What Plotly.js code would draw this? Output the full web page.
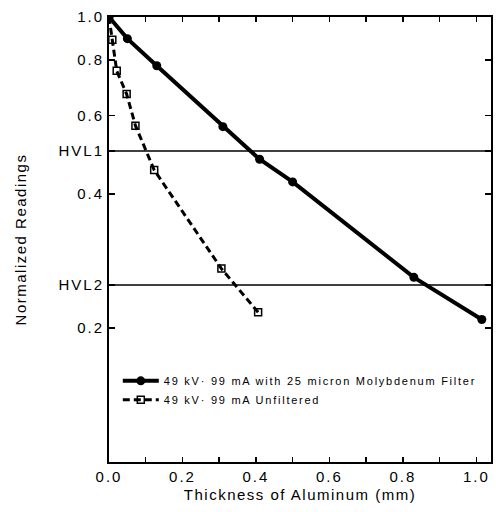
<!DOCTYPE html>
<html>
<head>
<meta charset="utf-8">
<script src="https://cdn.plot.ly/plotly-3.0.1.min.js"></script>
<style>
  html, body { margin: 0; padding: 0; background: #fff; }
  #chart { width: 496px; height: 512px; }
  .xtick text, .ytick text { letter-spacing: 2px !important; }
  .g-xtitle text, .g-ytitle text { letter-spacing: 1.5px !important; }
  .legendtext { letter-spacing: 1.75px !important; }
</style>
</head>
<body>
<div id="chart"></div>
<script>
// Data
const filteredName = "49 kV· 99 mA with 25 micron Molybdenum Filter";
const filteredX = [0, 0.05, 0.13, 0.31, 0.41, 0.50, 0.83, 1.015];
const filteredY = [1.0, 0.894, 0.777, 0.567, 0.479, 0.426, 0.260, 0.209];

const unfilteredName = "49 kV· 99 mA Unfiltered";
const unfilteredX = [0, 0.009, 0.021, 0.048, 0.072, 0.123, 0.306, 0.406];
const unfilteredY = [1.0, 0.889, 0.757, 0.671, 0.570, 0.453, 0.272, 0.217];

const hvlValues = [0.5, 0.25];
const xRange = [0, 1.04];
const yTickVals = [0.2, 0.25, 0.4, 0.5, 0.6, 0.8, 1.0];
const yTickText = ["0.2", "HVL2", "0.4", "HVL1", "0.6", "0.8", "1.0"];
const xTickVals = [0, 0.2, 0.4, 0.6, 0.8, 1.0];
const xTickText = ["0.0", "0.2", "0.4", "0.6", "0.8", "1.0"];

const FONT = "'Liberation Sans', Arial, Helvetica, sans-serif";

const hvlTraces = hvlValues.map(v => ({
  x: xRange, y: [v, v], type: "scatter", mode: "lines",
  line: { color: "#000", width: 1.5 },
  showlegend: false, hoverinfo: "skip", cliponaxis: true
}));

const traces = hvlTraces.concat([
  {
    x: filteredX, y: filteredY, name: filteredName,
    type: "scatter", mode: "lines+markers",
    line: { color: "#000", width: 4 },
    marker: { symbol: "circle", size: 9, color: "#000" }
  },
  {
    x: unfilteredX, y: unfilteredY, name: unfilteredName,
    type: "scatter", mode: "lines+markers",
    line: { color: "#000", width: 3, dash: "7px,4px" },
    marker: { symbol: "square-open", size: 7, color: "#000", line: { width: 1.5, color: "#000" } }
  }
]);

const layout = {
  width: 496, height: 512,
  margin: { l: 109, r: 3, t: 17, b: 50 },
  paper_bgcolor: "#fff", plot_bgcolor: "#fff",
  font: { family: FONT, color: "#000", size: 14 },
  showlegend: true,
  legend: {
    x: 0.023, y: 0.215, xanchor: "left", yanchor: "top",
    bgcolor: "rgba(0,0,0,0)", borderwidth: 0,
    font: { family: FONT, size: 11, color: "#000" },
    itemwidth: 36,
    tracegroupgap: 0
  },
  xaxis: {
    range: xRange, automargin: true,
    tickmode: "array", tickvals: xTickVals, ticktext: xTickText,
    ticks: "inside", ticklen: 5, tickwidth: 1.5, tickcolor: "#000",
    minor: { tickmode: "linear", tick0: 0, dtick: 0.1, ticks: "inside", ticklen: 5, tickwidth: 1.5, tickcolor: "#000", showgrid: false },
    showline: true, linewidth: 2, linecolor: "#000", mirror: "ticks",
    showgrid: false, zeroline: false,
    tickfont: { family: FONT, size: 15, color: "#000" },
    title: { text: "Thickness of Aluminum (mm)", font: { family: FONT, size: 15, color: "#000" }, standoff: 5 }
  },
  yaxis: {
    type: "log", range: [-1, 0], automargin: true,
    tickmode: "array", tickvals: yTickVals, ticktext: yTickText,
    ticks: "inside", ticklen: 6, tickwidth: 1.5, tickcolor: "#000",
    showline: true, linewidth: 2, linecolor: "#000", mirror: "ticks",
    showgrid: false, zeroline: false,
    tickfont: { family: FONT, size: 15, color: "#000" },
    title: { text: "Normalized Readings", font: { family: FONT, size: 15, color: "#000" }, standoff: 28 }
  }
};

Plotly.newPlot("chart", traces, layout, { displayModeBar: false, staticPlot: true });
</script>
</body>
</html>
